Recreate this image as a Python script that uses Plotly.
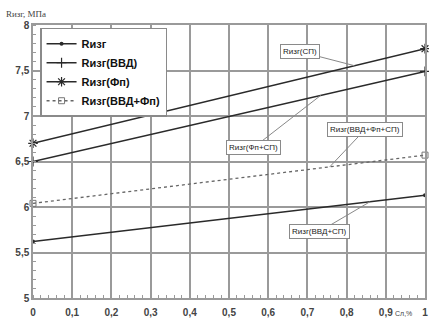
import numpy as np
import plotly.graph_objects as go

# Содержание СЛ, % (доли) и расчётные значения Rизг, МПа
x_vals = [0.0, 1.0]
r_izg = [5.62, 6.13]
r_izg_vvd = [6.50, 7.49]
r_izg_fp = [6.70, 7.74]
r_izg_vvd_fp = [6.04, 6.57]

series_names = ["Rизг", "Rизг(ВВД)", "Rизг(Фп)", "Rизг(ВВД+Фп)"]
x_ticks = [0, 0.1, 0.2, 0.3, 0.4, 0.5, 0.6, 0.7, 0.8, 0.9, 1]
y_ticks = [5, 5.5, 6, 6.5, 7, 7.5, 8]

# callout labels: text, series, x position along the line, box offset (px)
callouts = [
    ("Rизг(СП)", r_izg_fp, 0.82, -54, -14),
    ("Rизг(Фп+СП)", r_izg_vvd, 0.734, -67, 52),
    ("Rизг(ВВД+Фп+СП)", r_izg_vvd_fp, 0.757, 35, -37),
    ("Rизг(ВВД+СП)", r_izg, 0.86, -51, 30),
]

fig = go.Figure()

styles = [
    (r_izg, dict(color="#2a2a2a", width=1.6, dash="solid"), dict(symbol="circle", size=4, color="#2a2a2a")),
    (r_izg_vvd, dict(color="#2a2a2a", width=1.6, dash="solid"),
     dict(symbol="cross-thin-open", size=7, color="#2a2a2a", line=dict(width=1.2, color="#2a2a2a"))),
    (r_izg_fp, dict(color="#2a2a2a", width=1.6, dash="solid"),
     dict(symbol="asterisk-open", size=8, color="#2a2a2a", line=dict(width=1.2, color="#2a2a2a"))),
    (r_izg_vvd_fp, dict(color="#666666", width=1.3, dash="dot"),
     dict(symbol="square-open", size=6, color="#777777", line=dict(width=1, color="#777777"))),
]

for name, (ys, line, marker) in zip(series_names, styles):
    fig.add_trace(go.Scatter(x=x_vals, y=ys, mode="lines+markers", name=name,
                             line=line, marker=marker, cliponaxis=False))

for text, ys, xp, ax, ay in callouts:
    yp = float(np.interp(xp, x_vals, ys))
    fig.add_annotation(x=xp, y=yp, xref="x", yref="y", text=text,
                       showarrow=True, arrowhead=0, arrowwidth=1, arrowcolor="#888888",
                       ax=ax, ay=ay, bgcolor="white", bordercolor="#8a8a8a",
                       borderwidth=1, borderpad=2,
                       font=dict(family="Arial", size=8, color="#222222"))

# axis captions
fig.add_annotation(x=-29 / 394, y=1 + 11 / 276, xref="paper", yref="paper", text="Rизг, МПа",
                   showarrow=False, xanchor="left", yanchor="middle",
                   font=dict(family="Liberation Serif", size=9, color="#444444"))
fig.add_annotation(x=(405 - 33) / 394, y=-(317 - 301) / 276, xref="paper", yref="paper",
                   text="Сл,%", showarrow=False, xanchor="center", yanchor="middle",
                   font=dict(family="Arial", size=7, color="#444444"))

fig.update_layout(
    width=429, height=320,
    margin=dict(l=33, r=2, t=25, b=19),
    paper_bgcolor="white", plot_bgcolor="white",
    separators=", ",
    showlegend=True,
    legend=dict(x=0.018, y=0.99, xanchor="left", yanchor="top",
                bgcolor="white", bordercolor="#8a8a8a", borderwidth=1.5,
                font=dict(family="Arial", size=11, color="#111111", weight="bold"),
                tracegroupgap=0, itemwidth=30),
    xaxis=dict(range=[0, 1], tickvals=x_ticks, showgrid=True, gridcolor="#9a9a9a",
               gridwidth=1.5, zeroline=False, showline=True, linecolor="#9a9a9a",
               linewidth=1.5, mirror=True, ticks="", ticklabelstandoff=4,
               tickfont=dict(family="Arial", size=10, color="#444444", weight="bold"),
               minor=dict(dtick=0.02, ticks="inside", ticklen=3, tickcolor="#9a9a9a",
                          showgrid=False)),
    yaxis=dict(range=[5, 8], tickvals=y_ticks, showgrid=True, gridcolor="#9a9a9a",
               gridwidth=1.5, zeroline=False, showline=True, linecolor="#9a9a9a",
               linewidth=1.5, mirror=True, ticks="",
               tickfont=dict(family="Arial", size=10, color="#444444", weight="bold"),
               minor=dict(dtick=0.1, ticks="inside", ticklen=3, tickcolor="#9a9a9a",
                          showgrid=False)),
)

fig.write_html("out.html")
